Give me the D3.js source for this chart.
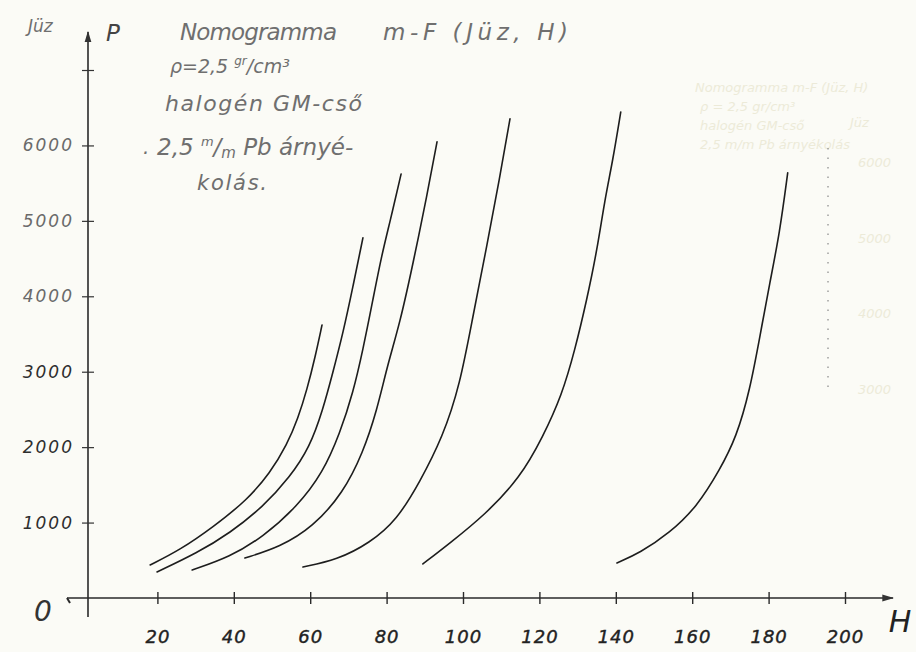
<!DOCTYPE html>
<html>
<head>
<meta charset="utf-8">
<script src="https://cdn.jsdelivr.net/npm/d3@7"></script>
<style>
  body { margin: 0; background: #fbfbf6; }
  svg { display: block; }
  text { font-family: "DejaVu Sans", sans-serif; font-style: italic; }
</style>
</head>
<body>
<svg id="chart" width="916" height="652"></svg>
<script>
// axis ticks
const hTicks = [20, 40, 60, 80, 100, 120, 140, 160, 180, 200]
const pTicks = [1000, 2000, 3000, 4000, 5000, 6000, 7000]
const pLabels = [1000, 2000, 3000, 4000, 5000, 6000]

// curves (H, P)
const curve1H = [18.1, 25.9, 34.6, 43.5, 49.5, 53.9, 56.8, 59.2, 61.3, 63.1]
const curve1P = [438, 636, 941, 1300, 1658, 2030, 2380, 2770, 3196, 3620]
const curve2H = [19.9, 30.4, 39.0, 47.6, 54.7, 59.9, 63.3, 65.9, 68.6, 71.2, 73.8]
const curve2P = [345, 597, 862, 1207, 1604, 2002, 2493, 2984, 3514, 4130, 4774]
const curve3H = [29.1, 39.0, 47.6, 56.5, 63.3, 67.8, 71.2, 73.8, 76.4, 78.6, 80.9, 83.8]
const curve3P = [371, 544, 809, 1207, 1658, 2188, 2718, 3288, 3951, 4520, 4990, 5622]
const curve4H = [42.9, 52.1, 60.7, 68.6, 73.8, 77.5, 80.1, 83.5, 86.9, 90.6, 93.2]
const curve4P = [530, 676, 941, 1392, 1923, 2493, 3063, 3647, 4429, 5344, 6047]
const curve5H = [58.1, 67.0, 75.6, 82.7, 88.7, 94.7, 99.2, 102.6, 106.2, 109.6, 112.3]
const curve5P = [411, 504, 729, 1034, 1538, 2135, 2824, 3739, 4654, 5569, 6352]
const curve6H = [89.5, 96.6, 105.7, 114.9, 120.9, 125.9, 129.3, 132.4, 135.1, 137.1, 139.2, 141.3]
const curve6P = [451, 729, 1101, 1591, 2135, 2692, 3288, 3951, 4614, 5277, 5795, 6444]
const curve7H = [140.3, 146.3, 154.1, 161.2, 167.2, 171.6, 175.1, 177.7, 180.3, 182.9, 185.0]
const curve7P = [464, 597, 862, 1207, 1697, 2135, 2758, 3461, 4177, 4840, 5636]

const curves = [
  [curve1H, curve1P], [curve2H, curve2P], [curve3H, curve3P], [curve4H, curve4P],
  [curve5H, curve5P], [curve6H, curve6P], [curve7H, curve7P]
]

const svg = d3.select('#chart')

let x = d3.scaleLinear().domain([0, 200]).range([81, 845])
let y = d3.scaleLinear().domain([0, 7000]).range([598, 70])

// faint show-through from the back of the sheet
const ghost = svg.append('g').attr('fill', '#d8d3ad').attr('opacity', 0.4).style('font-size', '13px')
ghost.append('text').attr('x', 695).attr('y', 92).text('Nomogramma m-F (Jüz, H)')
ghost.append('text').attr('x', 700).attr('y', 111).text('ρ = 2,5 gr/cm³')
ghost.append('text').attr('x', 700).attr('y', 130).text('halogén GM-cső')
ghost.append('text').attr('x', 700).attr('y', 149).text('2,5 m/m Pb árnyékolás')
ghost.append('text').attr('x', 850).attr('y', 127).text('Jüz')
ghost.selectAll('.gl').data([6000, 5000, 4000, 3000]).join('text')
  .attr('x', 858).attr('y', d => y(d) + 22).text(d => d)
svg.append('line').attr('x1', 828).attr('x2', 828).attr('y1', 148).attr('y2', 392)
  .attr('stroke', '#888').attr('stroke-width', 1.2).attr('stroke-dasharray', '1.5 8')

// arrow heads
let defs = svg.append('defs')
defs.append('marker').attr('id', 'arr').attr('viewBox', '0 0 10 10').attr('refX', 9).attr('refY', 5)
  .attr('markerWidth', 7).attr('markerHeight', 7).attr('orient', 'auto')
  .append('path').attr('d', 'M0,2 L10,5 L0,8 Z').attr('fill', '#333')

// x axis
svg.append('line').attr('x1', 67).attr('x2', 893).attr('y1', 598).attr('y2', 598)
  .attr('stroke', '#2a2a2a').attr('stroke-width', 1.7).attr('marker-end', 'url(#arr)')
svg.append('line').attr('x1', 67).attr('x2', 70).attr('y1', 598).attr('y2', 603)
  .attr('stroke', '#2a2a2a').attr('stroke-width', 2)

let gx = svg.append('g').attr('transform', 'translate(0,598)')
  .call(d3.axisBottom(x).tickValues(hTicks).tickSize(5).tickFormat(d => d))
gx.select('.domain').remove()
gx.selectAll('.tick line').attr('y1', -6).attr('y2', 6).attr('stroke', '#2a2a2a').attr('stroke-width', 1.4)
gx.selectAll('.tick text').attr('y', 45).attr('dy', 0)
  .style('font-size', '18px').style('letter-spacing', '1px')
  .attr('fill', '#222').attr('stroke', '#222').attr('stroke-width', 0.4)

// y axis
svg.append('line').attr('x1', 88).attr('x2', 88).attr('y1', 617).attr('y2', 32)
  .attr('stroke', '#2a2a2a').attr('stroke-width', 1.6).attr('marker-end', 'url(#arr)')

let gy = svg.append('g').attr('transform', 'translate(88,0)')
  .call(d3.axisLeft(y).tickValues(pTicks).tickSize(5).tickFormat(d => pLabels.includes(d) ? d : ''))
gy.select('.domain').remove()
gy.selectAll('.tick line').attr('x1', -6).attr('x2', 6).attr('stroke', '#333').attr('stroke-width', 1.2)
gy.selectAll('.tick text').attr('x', -14)
  .style('font-size', '17px').style('letter-spacing', '2px')
  .attr('fill', d => d >= 4000 ? '#6a6a6a' : '#2e2e2e')

svg.append('text').attr('x', 43).attr('y', 621).attr('text-anchor', 'middle')
  .style('font-size', '28px').attr('fill', '#333').text('0')
svg.append('text').attr('x', 900).attr('y', 632).attr('text-anchor', 'middle')
  .style('font-size', '30px').attr('fill', '#222').text('H')

// curves
let line = d3.line().x(d => x(d[0])).y(d => y(d[1])).curve(d3.curveBasis)

svg.append('g').selectAll('path')
  .data(curves.map(c => c[0].map((h, i) => [h, c[1][i]])))
  .join('path')
  .attr('d', line)
  .attr('fill', 'none')
  .attr('stroke', '#1d1d1d')
  .attr('stroke-width', 1.6)
  .attr('stroke-linecap', 'round')

// labels and heading
let lab = svg.append('g').attr('fill', '#6f6f6f')
lab.append('text').attr('x', 28).attr('y', 32).style('font-size', '17px').text('Jüz')
lab.append('text').attr('x', 106).attr('y', 41).style('font-size', '23px').attr('fill', '#444').text('P')

lab.append('text').attr('x', 180).attr('y', 40).style('font-size', '23px')
  .attr('textLength', 157).text('Nomogramma')
lab.append('text').attr('x', 383).attr('y', 40).style('font-size', '23px')
  .attr('textLength', 185).text('m-F (Jüz, H)')

let t2 = lab.append('text').attr('x', 170).attr('y', 73).style('font-size', '19px')
t2.append('tspan').text('ρ=2,5 ')
t2.append('tspan').attr('dy', -8).style('font-size', '12px').text('gr')
t2.append('tspan').attr('dy', 8).text('/cm³')

lab.append('text').attr('x', 165).attr('y', 111).style('font-size', '22px')
  .attr('textLength', 197).text('halogén GM-cső')

lab.append('text').attr('x', 143).attr('y', 154).style('font-size', '20px').text('.')
let t4 = lab.append('text').attr('x', 157).attr('y', 155).style('font-size', '23px')
t4.append('tspan').text('2,5 ')
t4.append('tspan').attr('dy', -9).style('font-size', '13px').text('m')
t4.append('tspan').attr('dy', 9).text('/')
t4.append('tspan').attr('dy', 3).style('font-size', '15px').text('m')
t4.append('tspan').attr('dy', -3).text(' Pb árnyé-')

lab.append('text').attr('x', 197).attr('y', 190).style('font-size', '21px')
  .attr('textLength', 70).text('kolás.')
</script>
</body>
</html>
